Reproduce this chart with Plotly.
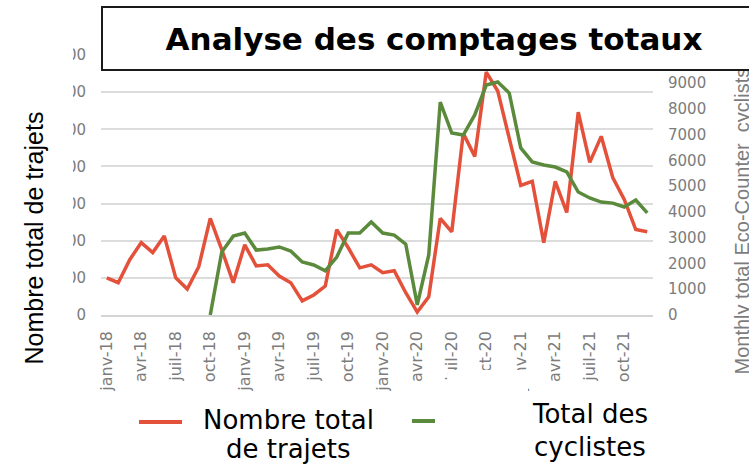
import plotly.graph_objects as go

# ---------------- data ----------------
month_abbr = ["janv", "févr", "mars", "avr", "mai", "juin",
              "juil", "août", "sept", "oct", "nov", "déc"]
years = ["18", "19", "20", "21"]
months = [f"{m}-{y}" for y in years for m in month_abbr]

trajets = [1000, 870, 1490, 1950, 1680, 2130, 1000, 700, 1300, 2600, 1760, 870,
           1890, 1320, 1350, 1050, 870, 380, 540, 780, 2300, 1810, 1270, 1350,
           1140, 1190, 600, 80, 490, 2600, 2240, 4890, 4270, 6540, 6030, 4780,
           3490, 3600, 1950, 3600, 2760, 5460, 4110, 4810, 3700, 3110, 2300, 2240]

cyclistes = [None, None, None, None, None, None, None, None, None, 0, 2440, 3060,
             3180, 2520, 2560, 2640, 2480, 2060, 1940, 1710, 2250, 3180, 3180, 3610,
             3180, 3100, 2750, 390, 2330, 8260, 7060, 6980, 7760, 8920, 9040, 8610,
             6480, 5940, 5820, 5740, 5550, 4770, 4540, 4380, 4340, 4190, 4460, 3960]

x_ticks = months[::3]
left_ticks = [0, 1000, 2000, 3000, 4000, 5000, 6000, 7000]
right_ticks = [0, 1000, 2000, 3000, 4000, 5000, 6000, 7000, 8000, 9000]

title_text = "Analyse des comptages totaux"
left_title = "Nombre total de trajets"
right_title = "Monthly total Eco-Counter_cyclists"
legend_red = ["Nombre total", "de trajets"]
legend_green = ["Total des", "cyclistes"]

RED = "#e4513b"
GREEN = "#5b8a3c"
GREY = "#7c7c7c"

# ---------------- layout geometry (pixels) ----------------
W, H = 749, 475
L, R, T, B = 101, 96, 55, 160
PW, PH = W - L - R, H - T - B


def px(x):
    return (x - L) / PW


def py(y):
    return (H - B - y) / PH


fig = go.Figure()
fig.add_trace(go.Scatter(x=months, y=trajets, mode="lines", name=left_title,
                         line=dict(color=RED, width=3.5), yaxis="y"))
fig.add_trace(go.Scatter(x=months, y=cyclistes, mode="lines", name="Total des cyclistes",
                         line=dict(color=GREEN, width=3.5), yaxis="y2"))

tick_font = dict(family="DejaVu Sans", size=15, color=GREY)
xtick_font = dict(family="DejaVu Sans", size=16, color=GREY)

fig.update_layout(
    width=W, height=H,
    margin=dict(l=L, r=R, t=T, b=B, pad=0),
    paper_bgcolor="white", plot_bgcolor="white",
    showlegend=False,
    xaxis=dict(type="category", range=[-0.5, 47.5], tickmode="array",
               tickvals=x_ticks, ticktext=x_ticks, tickangle=-90,
               tickfont=xtick_font, showgrid=False, showline=True,
               linecolor="#d4d4d4", linewidth=1.5, ticks="",
               ticklabelstandoff=8, zeroline=False),
    yaxis=dict(range=[0, 7000], tickmode="array", tickvals=left_ticks,
               tickfont=tick_font, showgrid=True, gridcolor="#dcdcdc",
               gridwidth=1.5, zeroline=False, showline=False, ticks="",
               ticklabelstandoff=14),
    yaxis2=dict(range=[0, 10086], tickmode="array", tickvals=right_ticks,
                tickfont=tick_font, overlaying="y", side="right",
                showgrid=False, zeroline=False, showline=False, ticks="",
                ticklabelstandoff=14),
)

shapes = [
    # white overlays hiding parts of the tick labels
    dict(type="rect", xref="paper", yref="paper", x0=px(-5), x1=px(73),
         y0=py(335), y1=py(35), fillcolor="white", line=dict(width=0), layer="above"),
    dict(type="rect", xref="paper", yref="paper", x0=px(448), x1=px(528),
         y0=py(402), y1=py(370), fillcolor="white", line=dict(width=0), layer="above"),
    # legend samples
    dict(type="line", xref="paper", yref="paper", x0=px(139), x1=px(182),
         y0=py(422), y1=py(422), line=dict(color=RED, width=4), layer="above"),
    dict(type="line", xref="paper", yref="paper", x0=px(412), x1=px(435),
         y0=py(421), y1=py(421), line=dict(color=GREEN, width=4), layer="above"),
]
fig.update_layout(shapes=shapes)

big = dict(family="DejaVu Sans", size=26, color="black")
ann = [
    dict(text=right_title, textangle=-90, x=px(742), y=py(377), xanchor="center",
         yanchor="bottom", font=dict(family="Liberation Sans, Arial", size=20, color=GREY)),
    dict(text=left_title, textangle=-90, x=px(33), y=py(110), xanchor="center",
         yanchor="top", font=dict(family="Liberation Sans, Arial", size=25, color="black")),
    dict(text=legend_red[0], x=px(288), y=py(420), xanchor="center", yanchor="middle", font=big),
    dict(text=legend_red[1], x=px(288), y=py(449), xanchor="center", yanchor="middle", font=big),
    dict(text=legend_green[0], x=px(590), y=py(414), xanchor="center", yanchor="middle", font=big),
    dict(text=legend_green[1], x=px(590), y=py(447), xanchor="center", yanchor="middle", font=big),
    dict(text="<b>" + title_text + "</b>", x=px(101), y=py(6), xanchor="left", yanchor="top",
         width=662, height=61, align="center", valign="middle", bgcolor="white",
         bordercolor="#1a1a1a", borderwidth=2, borderpad=0,
         font=dict(family="DejaVu Sans", size=31, color="black")),
]
for a in ann:
    a.update(xref="paper", yref="paper", showarrow=False)
fig.update_layout(annotations=ann)

fig.write_html("out.html", config={"displayModeBar": False},
               post_script="document.body.style.margin='0px';document.body.style.overflow='hidden';")
